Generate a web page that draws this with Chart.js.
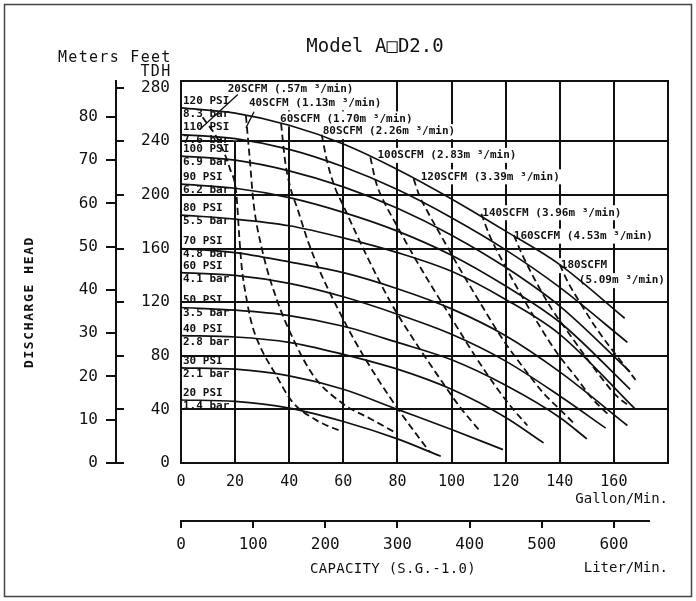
<!DOCTYPE html>
<html><head><meta charset="utf-8">
<script src="https://cdn.jsdelivr.net/npm/chart.js@4.4.1/dist/chart.umd.min.js"></script>
<style>html,body{margin:0;padding:0;background:#fff}</style>
</head><body>
<canvas id="c" width="696" height="601"></canvas>
<script>
// ---- tick labels ----
const gpmTicks = [0,20,40,60,80,100,120,140,160,180];
const gpmTickLabels = ['0','20','40','60','80','100','120','140','160',''];
const literTicks = [0,100,200,300,400,500,600];
const feetTicks = [0,40,80,120,160,200,240,280];
const meterTicks = [0,10,20,30,40,50,60,70,80];

// ---- categories ----
const psiLevels = [20,30,40,50,60,70,80,90,100,110,120];
const barLabels = ['1.4','2.1','2.8','3.5','4.1','4.8','5.5','6.2','6.9','7.6','8.3'];
const scfmLevels = [20,40,60,80,100,120,140,160,180];
const scfmM3 = ['.57','1.13','1.70','2.26','2.83','3.39','3.96','4.53','5.09'];

// ---- solid curves: [gpm, feet TDH] ----
const psi20 = [[0,47],[20,46],[40,41],[60,31],[80,18],[96,5]];
const psi30 = [[0,71],[20,70],[40,65],[60,55],[80,40],[100,25],[119,10]];
const psi40 = [[0,95],[20,94],[40,90],[60,81],[80,70],[100,55],[120,34],[134,15]];
const psi50 = [[0,116],[20,114],[40,110],[60,102],[80,90],[100,77],[120,58],[140,34],[150,18]];
const psi60 = [[0,142],[20,140],[40,134],[60,124],[80,111],[100,96],[120,76],[140,50],[157,26]];
const psi70 = [[0,160],[20,157],[40,150],[60,142],[80,130],[100,115],[120,95],[140,68],[165,28]];
const psi80 = [[0,185],[20,182],[40,177],[60,168],[80,157],[100,143],[120,122],[140,96],[168,40]];
const psi90 = [[0,208],[20,205],[40,198],[60,187],[80,173],[100,155],[120,132],[140,105],[166,55]];
const psi100 = [[0,229],[20,226],[40,218],[60,206],[80,190],[100,170],[120,146],[140,117],[166,68]];
const psi110 = [[0,245],[20,242],[40,234],[60,221],[80,204],[100,183],[120,159],[140,131],[165,90]];
const psi120 = [[0,265],[20,261],[40,252],[60,238],[80,219],[100,197],[120,173],[140,148],[164,108]];

// ---- dashed air-consumption curves: [gpm, feet TDH] ----
const scfm20 = [[8,258],[14,240],[18,220],[20.5,200],[21.5,170],[22.5,145],[24,125],[26,105],[29,88],[35,66],[41,46],[50,32],[60,23]];
const scfm40 = [[24,259],[25.5,225],[26.7,196],[30,159],[35.4,122],[41.6,92],[49,65],[60,44],[70,33],[79,23]];
const scfm60 = [[37,253],[38.5,225],[40.5,205],[43,190],[47,165],[52,140],[58,115],[64,92],[72,65],[81,38],[92,8]];
const scfm80 = [[52,245],[54,225],[57,205],[60,192],[65,170],[71,145],[78,118],[86,92],[95,65],[103,42],[110,25]];
const scfm100 = [[70,228],[72,210],[75,195],[79,180],[85,158],[92,134],[100,108],[108,82],[116,58],[122,42],[128,28]];
const scfm120 = [[86,212],[88,200],[91,188],[96,170],[103,145],[111,118],[119,92],[127,70],[134,52],[140,40],[145,30]];
const scfm140 = [[111,186],[114,170],[119,150],[125,128],[132,104],[139,82],[146,64],[152,48],[158,36]];
const scfm160 = [[123,170],[126,156],[131,136],[137,115],[144,95],[150,78],[156,62],[161,50],[166,42]];
const scfm180 = [[140,148],[143,135],[148,118],[153,102],[158,88],[163,75],[168,62]];

// ---- leader lines of the first two air labels ----
const leader20 = [[7,249],[21,275]];
const leader40 = [[24,250],[27,262]];

const psiCurves = [psi20,psi30,psi40,psi50,psi60,psi70,psi80,psi90,psi100,psi110,psi120];
const scfmCurves = [scfm20,scfm40,scfm60,scfm80,scfm100,scfm120,scfm140,scfm160,scfm180];

const FONT = "'DejaVu Sans Mono', monospace";
const INK = '#111';
const toPts = a => a.map(([x,y]) => ({x, y}));

const datasets = [];
psiCurves.forEach((c,i) => datasets.push({
  label: psiLevels[i] + ' PSI', data: toPts(c), showLine: true, borderColor: INK,
  borderWidth: 1.7, pointRadius: 0, cubicInterpolationMode: 'monotone', fill: false
}));
scfmCurves.forEach((c,i) => datasets.push({
  label: scfmLevels[i] + ' SCFM', data: toPts(c), showLine: true, borderColor: INK,
  borderWidth: 1.8, borderDash: [7,4], pointRadius: 0, cubicInterpolationMode: 'monotone', fill: false
}));
[leader20, leader40].forEach(c => datasets.push({
  label: 'leader', data: toPts(c), showLine: true, borderColor: INK, borderWidth: 1.3,
  pointRadius: 0, tension: 0, fill: false
}));

// pixel offsets of the air labels from the start of their curve
const scfmLabelOffsets = [[25,-28],[3,-13],[-1,-5],[1,-3],[7,-2],[7,-2],[1,-1],[0,1],[1,1]];
const LABEL_FONT = 'bold 11px ' + FONT;

function scfmLabelItems(chart){
  const xs = chart.scales.x, ys = chart.scales.y;
  const items = [];
  scfmCurves.forEach((c,i) => {
    const px = xs.getPixelForValue(c[0][0]) + scfmLabelOffsets[i][0];
    const py = ys.getPixelForValue(c[0][1]) + scfmLabelOffsets[i][1];
    if (i === scfmCurves.length - 1) {
      items.push({t: scfmLevels[i] + 'SCFM', x: px, y: py});
      items.push({t: '(' + scfmM3[i] + 'm ³/min)', x: px + 18, y: py + 15});
    } else {
      items.push({t: scfmLevels[i] + 'SCFM (' + scfmM3[i] + 'm ³/min)', x: px, y: py});
    }
  });
  return items;
}

const decor = {
  id: 'decor',
  beforeDatasetsDraw(chart){
    const ctx = chart.ctx, xs = chart.scales.x, ys = chart.scales.y, a = chart.chartArea;
    ctx.save();
    ctx.font = LABEL_FONT;
    ctx.fillStyle = '#fff';
    scfmLabelItems(chart).forEach(it => {
      const w = ctx.measureText(it.t).width;
      ctx.fillRect(it.x - 2, it.y - 7.5, w + 4, 15);
    });
    // gap of the 20 gpm grid line behind the top pressure labels
    const x20 = xs.getPixelForValue(20);
    ctx.fillRect(x20 - 2, a.top + 1, 4, ys.getPixelForValue(240) - a.top - 2);
    ctx.restore();
  },
  afterDatasetsDraw(chart){
    const ctx = chart.ctx, xs = chart.scales.x, ys = chart.scales.y;
    ctx.save();
    ctx.fillStyle = INK;
    ctx.textBaseline = 'middle';
    ctx.textAlign = 'left';
    ctx.font = LABEL_FONT;
    // pressure labels at the start of each solid curve
    psiCurves.forEach((c,i) => {
      const py = ys.getPixelForValue(c[0][1]);
      const px = xs.getPixelForValue(0) + 2;
      ctx.fillText(psiLevels[i] + ' PSI', px, py - 7);
      ctx.fillText(barLabels[i] + ' bar', px, py + 6);
    });
    scfmLabelItems(chart).forEach(it => ctx.fillText(it.t, it.x, it.y));
    ctx.restore();
  },
  afterDraw(chart){
    const ctx = chart.ctx, a = chart.chartArea;
    const ys = chart.scales.y, ym = chart.scales.y2, xl = chart.scales.x2;
    ctx.save();
    ctx.strokeStyle = INK;
    // plot frame top edge
    ctx.lineWidth = 2;
    ctx.beginPath(); ctx.moveTo(a.left - 1, a.top); ctx.lineTo(a.right + 1, a.top); ctx.stroke();
    // feet tick marks on the right side of the shared vertical axis line
    const axX = ym.right;
    feetTicks.forEach(v => {
      const py = Math.round(ys.getPixelForValue(v));
      ctx.beginPath(); ctx.moveTo(axX, py); ctx.lineTo(axX + 8, py); ctx.stroke();
    });
    // liter axis line
    ctx.beginPath();
    ctx.moveTo(xl.getPixelForValue(0) - 1, xl.top + 1);
    ctx.lineTo(xl.getPixelForValue(650), xl.top + 1);
    ctx.stroke();
    // outer frame
    ctx.lineWidth = 1.5; ctx.strokeStyle = '#444';
    ctx.strokeRect(4.5, 4.5, 687, 592);
    // texts
    ctx.fillStyle = INK;
    ctx.textBaseline = 'middle';
    ctx.textAlign = 'center';
    ctx.font = '19px ' + FONT;
    ctx.fillText('Model A\u25A1D2.0', 375, 47);
    ctx.font = '15px ' + FONT;
    ctx.letterSpacing = '1.3px';
    ctx.fillText('Meters', axX - 27, a.top - 23);
    ctx.fillText('Feet', axX + 35, a.top - 23);
    ctx.fillText('TDH', axX + 40, a.top - 9);
    ctx.font = '14px ' + FONT;
    ctx.letterSpacing = '0.3px';
    ctx.fillText('CAPACITY (S.G.-1.0)', 393, 569);
    ctx.font = 'bold 13px ' + FONT;
    ctx.letterSpacing = '1.6px';
    ctx.translate(30, 302);
    ctx.rotate(-Math.PI / 2);
    ctx.fillText('DISCHARGE HEAD', 0, 0);
    ctx.restore();
  }
};

new Chart(document.getElementById('c'), {
  type: 'scatter',
  data: { datasets },
  plugins: [decor],
  options: {
    responsive: false,
    animation: false,
    events: [],
    layout: { padding: { left: 71, right: 28, top: 81, bottom: 16 } },
    plugins: { legend: { display: false }, tooltip: { enabled: false }, title: { display: false } },
    scales: {
      x: {
        type: 'linear', position: 'bottom', weight: 0, min: 0, max: 180,
        afterBuildTicks: s => { s.ticks = gpmTicks.map(v => ({value: v})); },
        afterFit: s => { s.height = 57; },
        ticks: { callback: v => gpmTickLabels[gpmTicks.indexOf(v)], color: INK,
                 font: { family: FONT, size: 15 }, padding: 10, maxRotation: 0, autoSkip: false },
        grid: { color: INK, lineWidth: 2, drawTicks: false },
        border: { color: INK, width: 2 },
        title: { display: true, text: 'Gallon/Min.', align: 'end', color: INK,
                 font: { family: FONT, size: 14 }, padding: { top: 0, bottom: 12 } }
      },
      x2: {
        type: 'linear', position: 'bottom', weight: 1, min: 0, max: 675,
        afterBuildTicks: s => { s.ticks = literTicks.map(v => ({value: v})); },
        afterFit: s => { s.height = 65; },
        ticks: { color: INK, font: { family: FONT, size: 16 }, padding: 7, maxRotation: 0, autoSkip: false },
        grid: { drawOnChartArea: false, color: INK, lineWidth: 2, tickLength: 8 },
        border: { display: false },
        title: { display: true, text: 'Liter/Min.', align: 'end', color: INK,
                 font: { family: FONT, size: 14 }, padding: { top: 0, bottom: 8 } }
      },
      y: {
        type: 'linear', position: 'left', weight: 0, min: 0, max: 285,
        afterBuildTicks: s => { s.ticks = feetTicks.map(v => ({value: v})); },
        afterFit: s => { s.width = 65; },
        ticks: { color: INK, font: { family: FONT, size: 16 }, padding: 11 },
        grid: { color: c => (c.tick && c.tick.value === 280) ? 'rgba(0,0,0,0)' : INK, lineWidth: 2, drawTicks: false },
        border: { color: INK, width: 2 }
      },
      y2: {
        type: 'linear', position: 'left', weight: 1, min: 0, max: 88.3,
        afterBuildTicks: s => { s.ticks = meterTicks.map(v => ({value: v})); },
        afterFit: s => { s.width = 45; },
        ticks: { color: INK, font: { family: FONT, size: 16 }, padding: 8 },
        grid: { drawOnChartArea: false, color: INK, lineWidth: 2, tickLength: 10 },
        border: { color: INK, width: 2 }
      }
    }
  }
});
</script>
</body></html>
